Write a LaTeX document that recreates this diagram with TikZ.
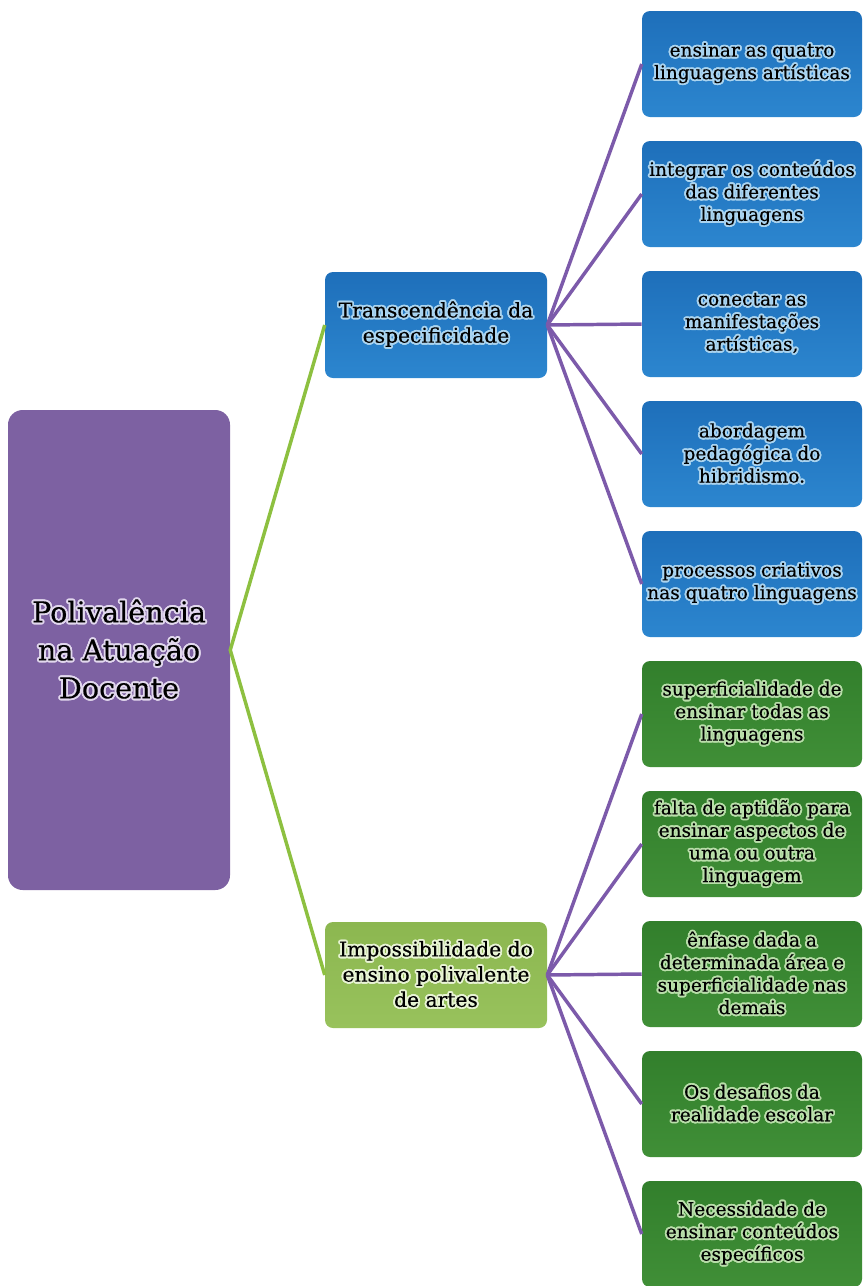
\documentclass[tikz,border=0pt]{standalone}
\usepackage{fontspec}
\setmainfont{DejaVu Serif}[FakeBold=0.35]
\usepackage{tikz}
\usepackage{xcolor}
\usepackage{contour}
\contourlength{1.4pt}
\usetikzlibrary{positioning}

\definecolor{rootpurple}{RGB}{125,97,162}
\definecolor{blueA}{RGB}{30,111,186}
\definecolor{blueB}{RGB}{44,134,207}
\definecolor{greenA}{RGB}{50,127,44}
\definecolor{greenB}{RGB}{64,143,55}
\definecolor{lgreenA}{RGB}{140,183,80}
\definecolor{lgreenB}{RGB}{152,194,92}
\definecolor{linegreen}{RGB}{141,192,64}
\definecolor{linepurple}{RGB}{124,90,170}
\definecolor{haloroot}{RGB}{226,216,238}
\definecolor{haloblue}{RGB}{170,212,240}
\definecolor{halogreen}{RGB}{185,222,170}
\definecolor{halolgreen}{RGB}{232,244,212}
\newcommand{\gl}[1]{\contour{halo}{#1}}

\begin{document}
\begin{tikzpicture}[x=0.75pt,y=0.75pt,yscale=-1,xscale=1,
  box/.style={rounded corners=6pt, inner sep=1pt, align=center, text=black},
  rootbox/.style={box, fill=rootpurple, rounded corners=11pt, minimum width=166.5pt, minimum height=360pt,
    font=\fontsize{21.5}{28.5}\selectfont, execute at begin node=\colorlet{halo}{haloroot}},
  topicbox/.style={box, minimum width=166.5pt, minimum height=79.5pt, font=\fontsize{15.2}{18.9}\selectfont},
  itembox/.style={box, minimum width=165pt, minimum height=79.5pt, font=\fontsize{13.9}{16.9}\selectfont},
  bluebox/.style={top color=blueA, bottom color=blueB, execute at begin node=\colorlet{halo}{haloblue}},
  greenbox/.style={top color=greenA, bottom color=greenB, execute at begin node=\colorlet{halo}{halogreen}},
  lgreenbox/.style={top color=lgreenA, bottom color=lgreenB, execute at begin node=\colorlet{halo}{halolgreen}},
  rootline/.style={draw=linegreen, line width=2.6pt},
  itemline/.style={draw=linepurple, line width=2.6pt}]
\useasboundingbox (0,0) rectangle (864,1286);

% Root
\node [rootbox] (root) at (119,650) {\gl{Polivalência}\\\gl{na Atuação}\\\gl{Docente}};

% Topics
\node [topicbox, bluebox] (trans) at (436,325) {\gl{Transcendência da}\\\gl{especificidade}};
\node [topicbox, lgreenbox] (impos) at (436,975) {\gl{Impossibilidade do}\\\gl{ensino polivalente}\\\gl{de artes}};

% Text Node
\node [itembox, bluebox] (quatro) at (752,64) {\gl{ensinar as quatro}\\\gl{linguagens artísticas}};
% Text Node
\node [itembox, bluebox] (integrar) at (752,194) {\gl{integrar os conteúdos}\\\gl{das diferentes}\\\gl{linguagens}};
% Text Node
\node [itembox, bluebox] (conectar) at (752,324) {\gl{conectar as}\\\gl{manifestações}\\\gl{artísticas,}};
% Text Node
\node [itembox, bluebox] (hibrid) at (752,454) {\gl{abordagem}\\\gl{pedagógica do}\\\gl{hibridismo.}};
% Text Node
\node [itembox, bluebox] (criativos) at (752,584) {\gl{processos criativos}\\\gl{nas quatro linguagens}};
% Text Node
\node [itembox, greenbox] (superf) at (752,714) {\gl{superficialidade de}\\\gl{ensinar todas as}\\\gl{linguagens}};
% Text Node
\node [itembox, greenbox] (aptidao) at (752,844) {\gl{falta de aptidão para}\\\gl{ensinar aspectos de}\\\gl{uma ou outra}\\\gl{linguagem}};
% Text Node
\node [itembox, greenbox] (enfase) at (752,974) {\gl{ênfase dada a}\\\gl{determinada área e}\\\gl{superficialidade nas}\\\gl{demais}};
% Text Node
\node [itembox, greenbox] (desafios) at (752,1104) {\gl{Os desafios da}\\\gl{realidade escolar}};
% Text Node
\node [itembox, greenbox] (necess) at (752,1234) {\gl{Necessidade de}\\\gl{ensinar conteúdos}\\\gl{específicos}};

%Straight Lines
\draw [rootline] (trans.west) -- (root.east) -- (impos.west);
%Straight Lines
\foreach \c in {quatro,integrar,conectar,hibrid,criativos}
  \draw [itemline] (trans.east) -- (\c.west);
%Straight Lines
\foreach \c in {superf,aptidao,enfase,desafios,necess}
  \draw [itemline] (impos.east) -- (\c.west);

\end{tikzpicture}
\end{document}
